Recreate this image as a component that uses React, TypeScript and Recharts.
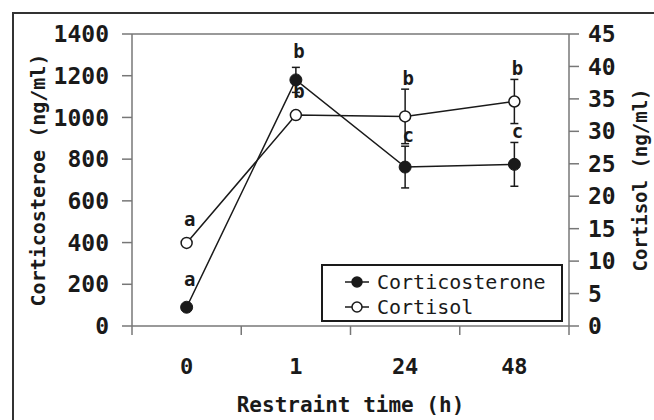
import React from "react";
import {
  LineChart,
  Line,
  XAxis,
  YAxis,
  ErrorBar,
  LabelList,
  ReferenceLine,
  Legend,
} from "recharts";

const categories = ["0", "1", "24", "48"];
const corticosterone = [90, 1180, 762, 775];
const corticosteroneErr = [0, 60, 100, 105];
const corticosteroneLetters = ["a", "b", "c", "c"];
const cortisol = [12.8, 32.5, 32.3, 34.6];
const cortisolErr = [0, 0.6, 4.2, 3.4];
const cortisolLetters = ["a", "b", "b", "b"];

const leftTicks = [0, 200, 400, 600, 800, 1000, 1200, 1400];
const rightTicks = [0, 5, 10, 15, 20, 25, 30, 35, 40, 45];
const xTicks = [0, 0.5, 1, 1.5, 2, 2.5, 3, 3.5, 4];

const FONT = "'DejaVu Sans Mono', monospace";
const AXIS = "#777";
const INK = "#1a1a1a";

const data = categories.map((c, i) => ({
  x: i + 0.5,
  cat: c,
  cortico: corticosterone[i],
  corticoErr: corticosteroneErr[i],
  corticoLab: corticosterone[i] + Math.max(corticosteroneErr[i], 85),
  corticoLetter: corticosteroneLetters[i],
  cortisol: cortisol[i],
  cortisolErr: cortisolErr[i],
  cortisolLab: cortisol[i] + Math.max(cortisolErr[i], 2),
  cortisolLetter: cortisolLetters[i],
}));

const XTick = (props: any) => {
  const { x, y, payload } = props;
  const v = payload.value;
  if (Number.isInteger(v)) {
    return <line x1={x} y1={y} x2={x} y2={y + 9} stroke={AXIS} strokeWidth={1.5} />;
  }
  return (
    <text
      x={x}
      y={y + 42}
      textAnchor="middle"
      dominantBaseline="middle"
      fontFamily={FONT}
      fontWeight="bold"
      fontSize={22}
      fill={INK}
    >
      {categories[Math.floor(v)]}
    </text>
  );
};

const LegendBox = () => (
  <div
    style={{
      width: 238,
      height: 54,
      border: `2px solid ${INK}`,
      background: "#fff",
      fontFamily: FONT,
      fontSize: 20,
      color: INK,
      boxSizing: "content-box",
    }}
  >
    {[
      { name: "Corticosterone", fill: INK },
      { name: "Cortisol", fill: "#fff" },
    ].map((e) => (
      <div key={e.name} style={{ display: "flex", alignItems: "center", height: 23, marginTop: 4, marginBottom: -2 }}>
        <svg width={30} height={14} style={{ marginLeft: 20, marginRight: 4 }}>
          <line x1={2} y1={7} x2={26} y2={7} stroke={INK} strokeWidth={1.5} />
          <circle cx={14} cy={7} r={5} fill={e.fill} stroke={INK} strokeWidth={1.5} />
        </svg>
        <span>{e.name}</span>
      </div>
    ))}
  </div>
);

export default function App() {
  const tickStyle = { fontFamily: FONT, fontWeight: "bold" as const, fontSize: 23, fill: INK };
  return (
    <div style={{ position: "absolute", left: 0, top: 0, width: 654, height: 420, background: "#fff", overflow: "hidden" }}>
      <div
        style={{
          position: "absolute",
          left: 12,
          top: 12,
          width: 660,
          height: 420,
          borderLeft: `2px solid #333`,
          borderTop: `2px solid #333`,
        }}
      />
      <div style={{ position: "absolute", left: 0, top: 0 }}>
        <LineChart width={654} height={420} data={data} margin={{ top: 34, right: 0, bottom: 0, left: 0 }}>
          <XAxis
            dataKey="x"
            type="number"
            domain={[0, 4]}
            ticks={xTicks}
            interval={0}
            tickLine={false}
            tickSize={0}
            tickMargin={0}
            tick={<XTick />}
            height={94}
            axisLine={{ stroke: AXIS, strokeWidth: 1.5 }}
            label={{
              value: "Restraint time (h)",
              position: "insideBottom",
              offset: 8,
              style: { fontFamily: FONT, fontWeight: "bold", fontSize: 21, fill: INK },
            }}
          />
          <YAxis
            yAxisId="l"
            domain={[0, 1400]}
            ticks={leftTicks}
            interval={0}
            width={132}
            tickSize={10}
            tickMargin={13}
            tick={tickStyle}
            axisLine={{ stroke: AXIS, strokeWidth: 1.5 }}
            tickLine={{ stroke: AXIS, strokeWidth: 1.5 }}
            label={{
              value: "Corticosteroe (ng/ml)",
              angle: -90,
              position: "center",
              dx: -28,
              style: { fontFamily: FONT, fontWeight: "bold", fontSize: 20, fill: INK },
            }}
          />
          <YAxis
            yAxisId="r"
            orientation="right"
            domain={[0, 45]}
            ticks={rightTicks}
            interval={0}
            width={85}
            tickSize={10}
            tickMargin={9}
            tick={tickStyle}
            axisLine={{ stroke: AXIS, strokeWidth: 1.5 }}
            tickLine={{ stroke: AXIS, strokeWidth: 1.5 }}
            label={{
              value: "Cortisol (ng/ml)",
              angle: -90,
              position: "center",
              dx: 29,
              style: { fontFamily: FONT, fontWeight: "bold", fontSize: 19, fill: INK },
            }}
          />
          <ReferenceLine yAxisId="l" y={1400} stroke={AXIS} strokeWidth={1.5} />
          <Line
            yAxisId="l"
            dataKey="cortico"
            stroke={INK}
            strokeWidth={1.5}
            isAnimationActive={false}
            dot={{ r: 6, fill: INK, stroke: INK, strokeWidth: 1 }}
            activeDot={false}
          >
            <ErrorBar dataKey="corticoErr" width={4} stroke={INK} strokeWidth={1.5} direction="y" />
          </Line>
          <Line
            yAxisId="r"
            dataKey="cortisol"
            stroke={INK}
            strokeWidth={1.5}
            isAnimationActive={false}
            dot={{ r: 5.5, fill: "#fff", stroke: INK, strokeWidth: 1.5 }}
            activeDot={false}
          >
            <ErrorBar dataKey="cortisolErr" width={4} stroke={INK} strokeWidth={1.5} direction="y" />
          </Line>
          <Line
            yAxisId="l"
            dataKey="corticoLab"
            stroke="none"
            dot={false}
            activeDot={false}
            isAnimationActive={false}
            legendType="none"
          >
            <LabelList
              dataKey="corticoLetter"
              position="top"
              offset={4}
              dx={3}
              style={{ fontFamily: FONT, fontWeight: "bold", fontSize: 19, fill: INK }}
            />
          </Line>
          <Line
            yAxisId="r"
            dataKey="cortisolLab"
            stroke="none"
            dot={false}
            activeDot={false}
            isAnimationActive={false}
            legendType="none"
          >
            <LabelList
              dataKey="cortisolLetter"
              position="top"
              offset={4}
              dx={3}
              style={{ fontFamily: FONT, fontWeight: "bold", fontSize: 19, fill: INK }}
            />
          </Line>
          <Legend
            layout="vertical"
            align="center"
            verticalAlign="middle"
            content={<LegendBox />}
            wrapperStyle={{ left: 321, top: 264, width: 242, height: 58 }}
          />
        </LineChart>
      </div>
    </div>
  );
}
